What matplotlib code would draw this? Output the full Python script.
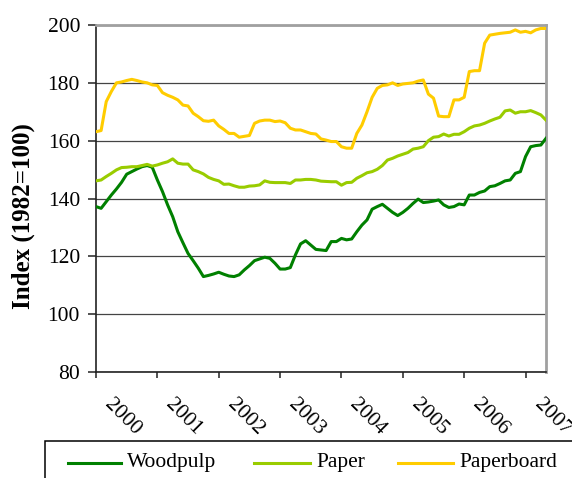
import numpy as np
import matplotlib
matplotlib.use("Agg")
import matplotlib.pyplot as plt
from matplotlib.lines import Line2D
from matplotlib.patches import Rectangle
from matplotlib.transforms import ScaledTranslation

plt.rcParams['font.family'] = ['Liberation Serif', 'DejaVu Serif']

# monthly index values, Jan 2000 - May 2007 (1982=100)
woodpulp = [137.2, 136.6, 138.9, 141.2, 143.3, 145.6, 148.4, 149.3, 150.2, 151.0, 151.4, 150.8,
            146.4, 142.4, 137.8, 133.7, 128.5, 124.7, 121.0, 118.5, 115.9, 113.0, 113.4, 113.9,
            114.5, 113.8, 113.2, 113.0, 113.6, 115.3, 116.8, 118.5, 119.1, 119.7, 119.3, 117.6,
            115.6, 115.6, 116.1, 120.5, 124.3, 125.4, 123.9, 122.4, 122.2, 122.0, 125.1, 125.1,
            126.2, 125.7, 126.0, 128.5, 130.8, 132.6, 136.3, 137.2, 138.0, 136.6, 135.2, 134.1,
            135.2, 136.6, 138.3, 139.8, 138.6, 138.8, 139.1, 139.5, 137.8, 136.9, 137.2, 138.1,
            137.8, 141.2, 141.2, 142.1, 142.6, 144.1, 144.4, 145.2, 146.1, 146.4, 148.7, 149.3,
            154.5, 157.9, 158.3, 158.5, 160.8]
paper = [146.1, 146.4, 147.6, 148.7, 149.9, 150.7, 150.8, 151.0, 151.0, 151.4, 151.8, 151.2,
         151.6, 152.2, 152.7, 153.7, 152.2, 151.9, 151.9, 149.9, 149.3, 148.5, 147.3, 146.6,
         146.1, 144.9, 145.0, 144.4, 143.9, 143.9, 144.3, 144.4, 144.7, 146.1, 145.6, 145.5,
         145.5, 145.5, 145.2, 146.4, 146.4, 146.6, 146.6, 146.4, 146.0, 145.9, 145.8, 145.8,
         144.6, 145.5, 145.6, 147.0, 147.9, 148.9, 149.3, 150.1, 151.4, 153.3, 153.9, 154.7,
         155.3, 155.9, 157.1, 157.4, 157.9, 160.0, 161.2, 161.4, 162.3, 161.6, 162.2, 162.2,
         163.1, 164.3, 165.1, 165.4, 166.0, 166.8, 167.5, 168.1, 170.3, 170.6, 169.5, 170.0,
         170.0, 170.4, 169.7, 168.9, 167.1]
paperboard = [163.1, 163.5, 173.5, 177.0, 180.0, 180.3, 180.8, 181.2, 180.8, 180.3, 180.0, 179.3,
              179.1, 176.6, 175.7, 175.0, 174.1, 172.3, 172.0, 169.5, 168.3, 166.9, 166.7, 167.1,
              165.1, 163.9, 162.5, 162.5, 161.2, 161.5, 161.8, 166.0, 166.8, 167.1, 167.1, 166.6,
              166.8, 166.2, 164.3, 163.7, 163.7, 163.1, 162.5, 162.3, 160.6, 160.2, 159.7, 159.7,
              157.9, 157.4, 157.4, 162.5, 165.4, 170.0, 175.0, 178.1, 179.1, 179.3, 180.0, 179.1,
              179.6, 179.8, 180.0, 180.6, 181.0, 176.1, 174.7, 168.5, 168.3, 168.3, 174.1, 174.1,
              175.0, 183.9, 184.2, 184.2, 193.7, 196.5, 196.8, 197.1, 197.3, 197.5, 198.3, 197.5,
              197.8, 197.3, 198.3, 198.8, 198.8]
years = list(range(2000, 2008))
series_names = ['Woodpulp', 'Paper', 'Paperboard']
series_colors = ['#008000', '#99cc00', '#ffcc00']

t = 2000 + np.arange(len(woodpulp)) / 12.0

fig = plt.figure(figsize=(5.72, 4.78), dpi=100)
ax = fig.add_axes([96/572, 1 - 372/478, 450/572, 347/478])

for vals, name, col in zip([woodpulp, paper, paperboard], series_names, series_colors):
    ax.plot(t, vals, color=col, lw=2.2, label=name, solid_joinstyle='round', zorder=3)

ax.set_xlim(2000, t[-1])
ax.set_ylim(80, 200)
ax.set_yticks(range(80, 201, 20))
ax.yaxis.grid(True, color='#444444', lw=0.9)
ax.set_axisbelow(True)

ax.spines['left'].set_color('#222222')
ax.spines['bottom'].set_color('#222222')
ax.spines['left'].set_linewidth(1.2)
ax.spines['bottom'].set_linewidth(1.2)
for s in ['top', 'right']:
    ax.spines[s].set_color('#a0a0a0')
    ax.spines[s].set_linewidth(2.0)

ax.tick_params(axis='y', direction='out', length=6, width=1.1, pad=5.5,
               labelsize=15.5, color='#222222')
ax.set_xticks(years)
ax.set_xticklabels([])
ax.tick_params(axis='x', direction='out', length=4.5, width=1.1, color='#222222')

# rotated year labels
off = ScaledTranslation(0.265, -0.455, fig.dpi_scale_trans)
for yr in years:
    ax.text(yr, 0, str(yr), transform=ax.get_xaxis_transform() + off,
            rotation=-45, rotation_mode='anchor', ha='center', va='center',
            fontsize=15.5, clip_on=False)

fig.text(23/572, 1 - 216/478, 'Index (1982=100)', rotation=90, ha='center', va='center',
         fontsize=18, fontweight='bold')

# legend box along the bottom
fig.patches.append(Rectangle((45/572, -0.2), 1.0, 0.2 + (1 - 441/478), transform=fig.transFigure,
                             fill=False, ec='black', lw=1.1, clip_on=False))
ly = 1 - 463/478
legend_pos = [(68, 121, 127), (254, 310, 316), (398, 453, 459)]
for (x0, x1, xt), name, col in zip(legend_pos, series_names, series_colors):
    fig.add_artist(Line2D([x0/572, x1/572], [ly, ly], transform=fig.transFigure, color=col, lw=2.2))
    fig.text(xt/572, ly, name, ha='left', va='center', fontsize=15.5)

fig.savefig('out.png', dpi=100)
